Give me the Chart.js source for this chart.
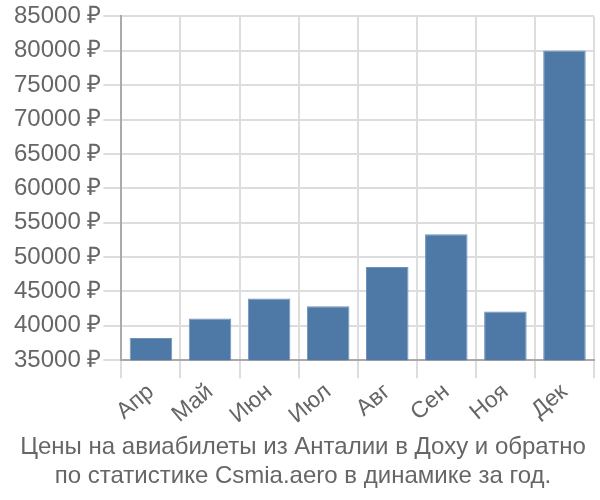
<!DOCTYPE html>
<html>
<head>
<meta charset="utf-8">
<script src="https://cdn.jsdelivr.net/npm/chart.js@4/dist/chart.umd.min.js"></script>
<style>
  html, body { margin: 0; padding: 0; background: #fff; }
  #wrap { width: 600px; height: 500px; }
</style>
</head>
<body>
<div id="wrap"><canvas id="myChart"></canvas></div>
<script>
const months = ["Апр", "Май", "Июн", "Июл", "Авг", "Сен", "Ноя", "Дек"];
const prices = [38240, 41060, 43970, 42850, 48560, 53310, 42080, 80050];
const yMin = 35000;
const yMax = 85000;
const yStep = 5000;
const titleLines = [
    "Цены на авиабилеты из Анталии в Доху и обратно",
    "по статистике Csmia.aero в динамике за год."
];

Chart.defaults.font.family = "'Liberation Sans', Arial, sans-serif";
Chart.defaults.color = "#666";

let ctx = document.getElementById('myChart').getContext('2d');
const config = {
    type: 'bar',
    data: {
        labels: months,
        datasets: [{
            data: prices,
            backgroundColor: "#4e79a7",
            borderColor: "#7093bb",
            borderWidth: 1,
            barPercentage: 0.9,
            categoryPercentage: 0.8
        }]
    },
    options: {
        responsive: true,
        maintainAspectRatio: false,
        animation: false,
        layout: { padding: { top: 6, right: 6, left: 12, bottom: 9 } },
        plugins: {
            legend: { display: false },
            tooltip: { enabled: false },
            title: {
                display: true,
                position: 'bottom',
                text: titleLines,
                color: '#666',
                font: { size: 24, weight: 'normal' },
                padding: { top: 4, bottom: 0 },
                lineHeight: 1.12
            }
        },
        scales: {
            x: {
                grid: { color: '#ddd', tickLength: 18, lineWidth: 2 },
                border: { color: '#aaa', width: 2 },
                ticks: {
                    font: { size: 23 },
                    color: '#666',
                    minRotation: 40,
                    maxRotation: 40,
                    padding: 0
                }
            },
            y: {
                min: yMin,
                max: yMax,
                grid: { color: '#ddd', tickLength: 18, lineWidth: 2 },
                border: { color: '#aaa', width: 2 },
                ticks: {
                    stepSize: yStep,
                    font: { size: 24 },
                    color: '#666',
                    padding: 2,
                    callback: (v) => v + ' ₽'
                }
            }
        }
    }
};
new Chart(ctx, config);
</script>
</body>
</html>
